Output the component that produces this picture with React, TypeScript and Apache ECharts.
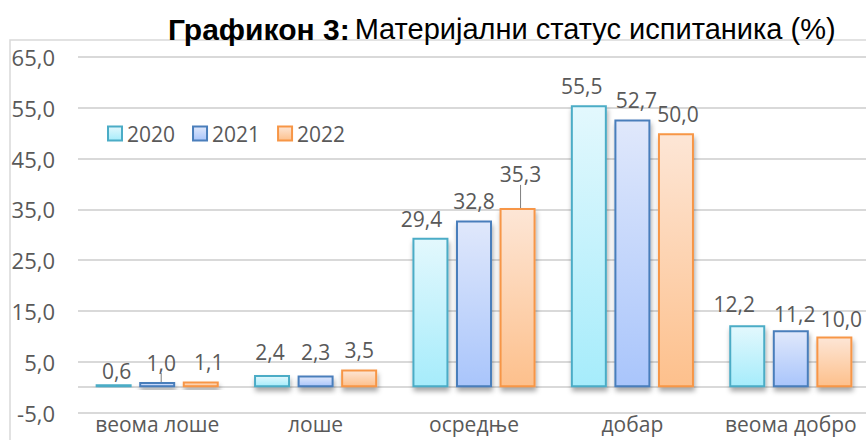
import React, { useEffect, useRef } from "react";
import * as echarts from "echarts";

const categories = ["веома лоше", "лоше", "осредње", "добар", "веома добро"];
const years = ["2020", "2021", "2022"];
const values2020 = [0.6, 2.4, 29.4, 55.5, 12.2];
const values2021 = [1.0, 2.3, 32.8, 52.7, 11.2];
const values2022 = [1.1, 3.5, 35.3, 50.0, 10.0];
const yTicks = { min: -5, max: 65, interval: 10 };

// manual label nudges (dx, dy) as in the source chart
const labelShift = [
  [[3, 6], [-2, -4], [-9, 1], [-7, 0], [-13, -2]],
  [[4, 0], [0, -4], [0, 0], [4, 0], [4, 3]],
  [[8, 0], [0, 0], [3, -14], [2, 0], [7, 2]],
];
const leaderLines: [number, number][] = [
  [1, 0],
  [2, 2],
];

const FONT = "'Open Sans', 'Noto Sans', sans-serif";
const TITLE_FONT = "'Liberation Sans Narrow', 'Liberation Sans', Arial, sans-serif";
const GREY = "#595959";

const styles = [
  { top: "#e3f8fd", bottom: "#a6ecfb", border: "#4bacc6" },
  { top: "#e0e8fb", bottom: "#a9c5fb", border: "#4a7ebb" },
  { top: "#fde6d6", bottom: "#fdc08c", border: "#f79646" },
];

const fmt = (v: number) => v.toFixed(1).replace(".", ",");

export default function App() {
  const ref = useRef<HTMLDivElement>(null);
  useEffect(() => {
    document.body.style.margin = "0";
    if (!ref.current) return;
    const chart = echarts.init(ref.current, null, { renderer: "svg" });
    const all = [values2020, values2021, values2022];
    const series = all.map((vals, si) => ({
      name: years[si],
      type: "bar",
      barWidth: 36,
      barGap: "21%",
      data: vals.map((v, di) => {
        const lead = leaderLines.some(([s, d]) => s === si && d === di);
        return lead
          ? { value: v, labelLine: { show: true, lineStyle: { color: "#7f7f7f", width: 1 } } }
          : { value: v };
      }),
      itemStyle: {
        color: new echarts.graphic.LinearGradient(0, 0, 0, 1, [
          { offset: 0, color: styles[si].top },
          { offset: 1, color: styles[si].bottom },
        ]),
        borderColor: styles[si].border,
        borderWidth: 2,
        shadowColor: "rgba(0,0,0,0.35)",
        shadowBlur: 5,
        shadowOffsetX: 1,
        shadowOffsetY: 4,
      },
      label: {
        show: true,
        position: "top",
        distance: 9,
        color: GREY,
        fontFamily: FONT,
        fontSize: 21,
        formatter: (p: any) => fmt(p.value),
      },
      labelLine: { show: false },
      labelLayout: (p: any) => {
        const s = labelShift[si][p.dataIndex];
        return { dx: s[0], dy: s[1] };
      },
      markLine:
        si === 0
          ? {
              silent: true,
              symbol: "none",
              label: { show: false },
              lineStyle: { color: "#d9d9d9", width: 2, type: "solid" },
              data: [{ yAxis: 0 }],
              z: 1,
            }
          : undefined,
    }));

    chart.setOption({
      animation: false,
      title: {
        left: 163,
        top: 9,
        text: "{b|Графикон 3:} {r|Материјални статус испитаника (%)}",
        textStyle: {
          fontWeight: "normal",
          rich: {
            b: {
              fontFamily: TITLE_FONT,
              fontWeight: "bold",
              fontSize: 30,
              color: "#000",
            },
            r: {
              fontFamily: TITLE_FONT,
              fontWeight: "normal",
              fontSize: 29,
              color: "#000",
            },
          },
        },
      },
      legend: {
        left: 107,
        top: 123,
        padding: 0,
        itemWidth: 14,
        itemHeight: 14,
        itemGap: 17,
        icon: "rect",
        itemStyle: { shadowBlur: 0, shadowOffsetX: 0, shadowOffsetY: 0, borderWidth: 2 },
        textStyle: { color: GREY, fontFamily: FONT, fontSize: 21 },
        data: years,
      },
      graphic: [
        {
          type: "rect",
          shape: { x: 10, y: 40, width: 900, height: 500 },
          style: { fill: "none", stroke: "#d9d9d9", lineWidth: 1.5 },
          z: -10,
          silent: true,
        },
      ],
      grid: {
        left: 78,
        right: -4,
        top: 57,
        bottom: 27.4,
        containLabel: false,
        outerBoundsMode: "none",
      },
      xAxis: {
        type: "category",
        data: categories,
        axisLine: { show: false, onZero: false },
        axisTick: { show: false },
        axisLabel: { color: GREY, fontFamily: FONT, fontSize: 21, margin: 1, interval: 0 },
      },
      yAxis: {
        type: "value",
        min: yTicks.min,
        max: yTicks.max,
        interval: yTicks.interval,
        axisLine: { show: false },
        axisTick: { show: false },
        axisLabel: {
          color: GREY,
          fontFamily: FONT,
          fontSize: 22,
          margin: 23,
          formatter: (v: number) => fmt(v),
        },
        splitLine: { lineStyle: { color: "#d9d9d9", width: 2 } },
      },
      series,
    });
    return () => chart.dispose();
  }, []);
  return <div ref={ref} style={{ width: 866, height: 440 }} />;
}
